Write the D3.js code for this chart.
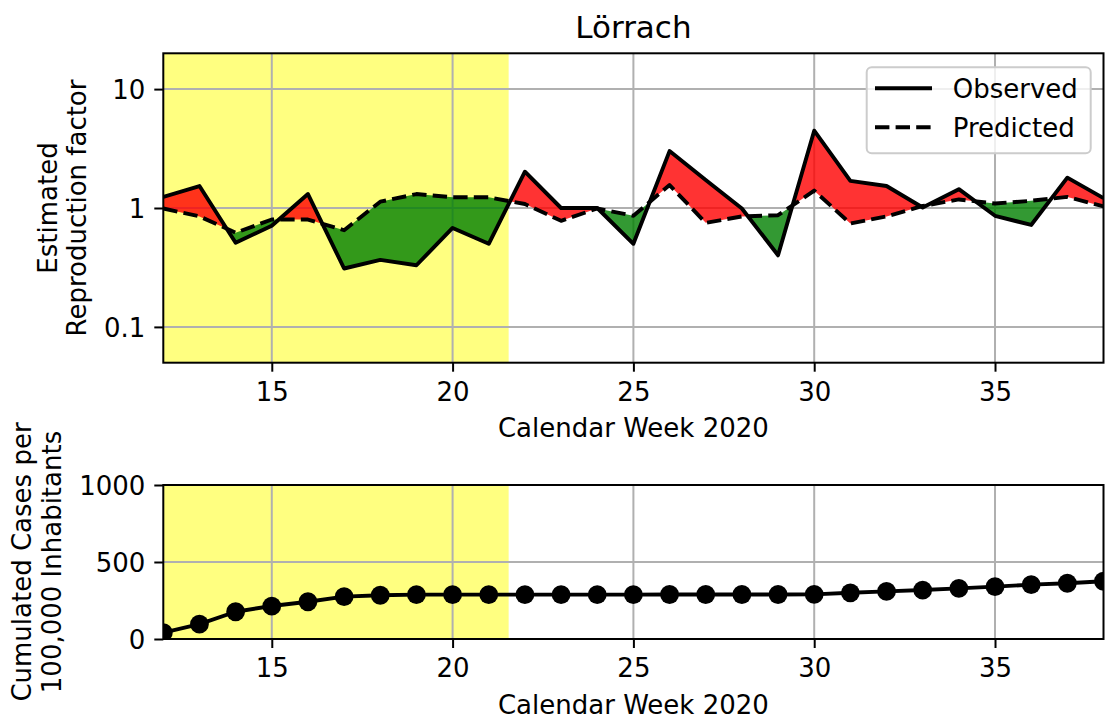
<!DOCTYPE html>
<html>
<head>
<meta charset="utf-8">
<script src="https://cdn.jsdelivr.net/npm/d3@7"></script>
<style>
  body { margin: 0; background: #fff; }
  svg { display: block; font-family: "DejaVu Sans", sans-serif; }
</style>
</head>
<body>
<svg width="1105" height="722"></svg>
<script>
// ***********************************
// Data

var weeks = [12, 13, 14, 15, 16, 17, 18, 19, 20, 21, 22, 23, 24, 25, 26, 27, 28, 29, 30, 31, 32, 33, 34, 35, 36, 37, 38];

// Estimated reproduction factor, observed vs. predicted
var observedR = [1.24, 1.53, 0.51, 0.71, 1.31, 0.31, 0.366, 0.33, 0.68, 0.50, 2.02, 1.0, 1.0, 0.50, 3.01, 1.72, 0.99, 0.40, 4.47, 1.69, 1.53, 1.01, 1.44, 0.86, 0.72, 1.80, 1.21];
var predictedR = [0.99, 0.85, 0.62, 0.80, 0.80, 0.65, 1.13, 1.31, 1.23, 1.23, 1.08, 0.78, 0.99, 0.86, 1.56, 0.75, 0.85, 0.87, 1.40, 0.74, 0.85, 1.04, 1.18, 1.09, 1.15, 1.24, 1.03];

// Cumulated cases per 100,000 inhabitants
var cumulated = [41, 97, 177, 214, 242, 275, 284, 288, 288, 288, 288, 288, 288, 288, 289, 289, 289, 289, 290, 300, 309, 318, 329, 340, 353, 362, 375];

// Highlighted (yellow) period
var lockdownSpan = [12, 21.55];

var weekDomain = [12, 38];
var weekTicks = [15, 20, 25, 30, 35];
var rDomain = [0.05, 20];
var rTicks = [0.1, 1, 10];
var rTickLabels = ["0.1", "1", "10"];
var caseDomain = [0, 1000];
var caseTicks = [0, 500, 1000];

var legendLabels = ["Observed", "Predicted"];
var title = "Lörrach";
var xLabel = "Calendar Week 2020";

// ***********************************
// General setup
var svg = d3.select("svg");
var fontSize = 26;
var lw = 3.9;          // data line width
var dash = "14.4,6.2"; // matplotlib "--"

var left = 163.3, right = 1103.5;
var top1 = 53.3, bottom1 = 362.7;
var top2 = 485, bottom2 = 639;

var x = d3.scaleLinear().domain(weekDomain).range([left, right]);
var yR = d3.scaleLog().domain(rDomain).range([bottom1, top1]);
var yC = d3.scaleLinear().domain(caseDomain).range([bottom2, top2]);

var defs = svg.append("defs");

// Title
svg.append("text")
  .attr("x", (left + right) / 2)
  .attr("y", 37.5)
  .attr("text-anchor", "middle")
  .attr("font-size", 31)
  .text(title);

// ***********************************
// FUNCTIONS

// Clip path for one panel
function addClip(id, y0, y1) {
  defs.append("clipPath").attr("id", id)
    .append("rect")
    .attr("x", left).attr("y", y0)
    .attr("width", right - left).attr("height", y1 - y0);
}

// Yellow background span
function drawSpan(g, y0, y1) {
  g.append("rect")
    .attr("x", x(lockdownSpan[0]))
    .attr("y", y0)
    .attr("width", x(lockdownSpan[1]) - x(lockdownSpan[0]))
    .attr("height", y1 - y0)
    .attr("fill", "#ffff80");
}

// Grid lines for both directions
function drawGrid(g, yScale, yTicks, y0, y1) {
  g.append("g")
    .selectAll("line.vx")
    .data(weekTicks).enter().append("line")
    .attr("x1", function(d) { return x(d); })
    .attr("x2", function(d) { return x(d); })
    .attr("y1", y0).attr("y2", y1)
    .attr("stroke", "#b0b0b0").attr("stroke-width", 2);
  g.append("g")
    .selectAll("line.hy")
    .data(yTicks).enter().append("line")
    .attr("x1", left).attr("x2", right)
    .attr("y1", function(d) { return yScale(d); })
    .attr("y2", function(d) { return yScale(d); })
    .attr("stroke", "#b0b0b0").attr("stroke-width", 2);
}

// Frame, ticks and tick labels
function drawAxes(yScale, yTicks, yFormat, y0, y1) {
  var gx = svg.append("g")
    .attr("transform", "translate(0," + y1 + ")")
    .call(d3.axisBottom(x).tickValues(weekTicks).tickSize(9).tickPadding(11).tickSizeOuter(0));
  var gy = svg.append("g")
    .attr("transform", "translate(" + left + ",0)")
    .call(d3.axisLeft(yScale).tickValues(yTicks).tickFormat(yFormat).tickSize(9).tickPadding(9).tickSizeOuter(0));
  [gx, gy].forEach(function(g) {
    g.select(".domain").remove();
    g.attr("font-size", fontSize).attr("font-family", "DejaVu Sans, sans-serif");
    g.selectAll(".tick line").attr("stroke", "#000").attr("stroke-width", 2);
    g.selectAll(".tick text").attr("fill", "#000");
  });
  gy.selectAll(".tick text").attr("dy", "0.36em");

  svg.append("rect")
    .attr("x", left).attr("y", y0)
    .attr("width", right - left).attr("height", y1 - y0)
    .attr("fill", "none").attr("stroke", "#000").attr("stroke-width", 2);

  svg.append("text")
    .attr("x", (left + right) / 2)
    .attr("y", y1 + 74.6)
    .attr("text-anchor", "middle")
    .attr("font-size", fontSize)
    .text(xLabel);
}

// Two-line rotated y label
function drawYLabel(lines, cy, xs) {
  lines.forEach(function(t, i) {
    svg.append("text")
      .attr("transform", "translate(" + xs[i] + "," + cy + ") rotate(-90)")
      .attr("text-anchor", "middle")
      .attr("font-size", fontSize)
      .text(t);
  });
}

// ***********************************
// Top panel: reproduction factor
addClip("clipTop", top1, bottom1);
var gTop = svg.append("g").attr("clip-path", "url(#clipTop)");
drawSpan(gTop, top1, bottom1);
drawGrid(gTop, yR, rTicks, top1, bottom1);

var rows = weeks.map(function(w, i) {
  return { w: w, obs: observedR[i], pred: predictedR[i], cases: cumulated[i] };
});

// Regions above each curve, used as clip masks for the fills
defs.append("clipPath").attr("id", "abovePred")
  .append("path").datum(rows)
  .attr("d", d3.area().x(function(d) { return x(d.w); }).y0(top1).y1(function(d) { return yR(d.pred); }));
defs.append("clipPath").attr("id", "aboveObs")
  .append("path").datum(rows)
  .attr("d", d3.area().x(function(d) { return x(d.w); }).y0(top1).y1(function(d) { return yR(d.obs); }));

// Red: observed above predicted
gTop.append("g").attr("clip-path", "url(#abovePred)")
  .append("path").datum(rows)
  .attr("d", d3.area().x(function(d) { return x(d.w); }).y0(bottom1).y1(function(d) { return yR(d.obs); }))
  .attr("fill", "red").attr("fill-opacity", 0.8);

// Green: observed below predicted
gTop.append("g").attr("clip-path", "url(#aboveObs)")
  .append("path").datum(rows)
  .attr("d", d3.area().x(function(d) { return x(d.w); }).y0(bottom1).y1(function(d) { return yR(d.pred); }))
  .attr("fill", "green").attr("fill-opacity", 0.8);

gTop.append("path").datum(rows)
  .attr("d", d3.line().x(function(d) { return x(d.w); }).y(function(d) { return yR(d.obs); }))
  .attr("fill", "none").attr("stroke", "#000").attr("stroke-width", lw)
  .attr("stroke-linejoin", "round");

gTop.append("path").datum(rows)
  .attr("d", d3.line().x(function(d) { return x(d.w); }).y(function(d) { return yR(d.pred); }))
  .attr("fill", "none").attr("stroke", "#000").attr("stroke-width", lw)
  .attr("stroke-dasharray", dash).attr("stroke-linejoin", "round");

drawAxes(yR, rTicks, function(d, i) { return rTickLabels[i]; }, top1, bottom1);
drawYLabel(["Estimated", "Reproduction factor"], (top1 + bottom1) / 2, [57, 86]);

// Legend
var gLeg = svg.append("g");
gLeg.append("rect")
  .attr("x", 866.7).attr("y", 67.3)
  .attr("width", 224).attr("height", 86)
  .attr("rx", 5)
  .attr("fill", "#fff").attr("fill-opacity", 0.8)
  .attr("stroke", "#cccccc").attr("stroke-width", 2);
legendLabels.forEach(function(t, i) {
  var cy = i === 0 ? 88.3 : 127.2;
  gLeg.append("line")
    .attr("x1", 875).attr("x2", 932)
    .attr("y1", cy).attr("y2", cy)
    .attr("stroke", "#000").attr("stroke-width", lw)
    .attr("stroke-dasharray", i === 0 ? null : dash);
  gLeg.append("text")
    .attr("x", 952.7).attr("y", cy + 9.8)
    .attr("font-size", fontSize)
    .text(t);
});

// ***********************************
// Bottom panel: cumulated cases
addClip("clipBottom", top2, bottom2);
var gBot = svg.append("g").attr("clip-path", "url(#clipBottom)");
drawSpan(gBot, top2, bottom2);
drawGrid(gBot, yC, caseTicks, top2, bottom2);

gBot.append("path").datum(rows)
  .attr("d", d3.line().x(function(d) { return x(d.w); }).y(function(d) { return yC(d.cases); }))
  .attr("fill", "none").attr("stroke", "#000").attr("stroke-width", lw)
  .attr("stroke-linejoin", "round");

gBot.selectAll("circle")
  .data(rows).enter().append("circle")
  .attr("cx", function(d) { return x(d.w); })
  .attr("cy", function(d) { return yC(d.cases); })
  .attr("r", 9.4)
  .attr("fill", "#000");

drawAxes(yC, caseTicks, d3.format("d"), top2, bottom2);
drawYLabel(["Cumulated Cases per", "100,000 Inhabitants"], (top2 + bottom2) / 2, [31, 61]);
</script>
</body>
</html>
